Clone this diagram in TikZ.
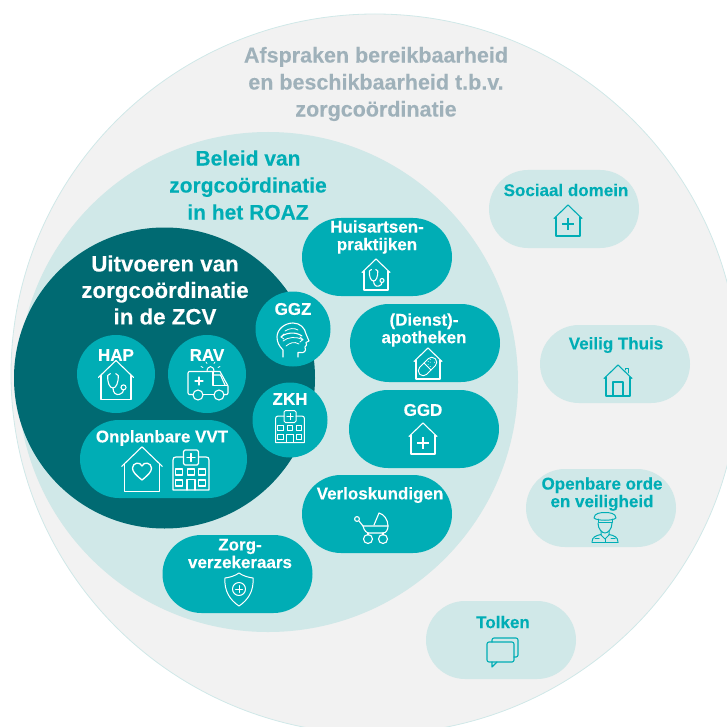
\documentclass[tikz,border=0pt]{standalone}
\usepackage{fontspec}
\usetikzlibrary{shapes.geometric}
\setmainfont{Liberation Sans}[BoldFont={Liberation Sans Bold},BoldFeatures={FakeBold=0.12}]
\definecolor{grayzone}{HTML}{F2F2F2}
\definecolor{palezone}{HTML}{D0E8E8}
\definecolor{tealzone}{HTML}{00ADB5}
\definecolor{darkzone}{HTML}{006A72}
\definecolor{headgray}{HTML}{9FB1BA}
\newcommand{\fs}[2]{\fontsize{#1}{#2}\selectfont\bfseries}
\tikzset{
  zone/.style={shape=circle,inner sep=0pt,minimum size=#1},
  pill/.style={draw=none,inner sep=0pt,rounded corners=39pt,minimum width=150pt,minimum height=78pt},
  tealpill/.style={pill,fill=tealzone},
  palepill/.style={pill,fill=palezone},
  ball/.style={zone=#1,fill=tealzone},
  lab/.style={align=center,inner sep=0pt,text=white,yshift=-1pt,font=\fs{17}{17.6}},
  tlab/.style={lab,text=tealzone},
  head/.style={align=center,inner sep=0pt,font=\fs{21.5}{27}},
  wicon/.style={color=white,line width=1.1pt,line join=round,line cap=round},
  ticon/.style={color=tealzone,line width=1.1pt,line join=round,line cap=round},
  pics/houseshape/.style={code={
    \draw (-14,-2.5) -- (0,-16) -- (14,-2.5);
    \draw (-12,-4) -- (-12,15) -- (12,15) -- (12,-4);
  }},
  pics/steth/.style={code={
    \draw (-4.5,-5.5) -- (-6.6,-4) .. controls (-7,2) and (-5,6) .. (-2.4,6) .. controls (0,6) and (2,2) .. (1.8,-4) -- (-.2,-5.5);
    \draw (-2.4,6) .. controls (-2.4,10) and (0,12) .. (3,11) .. controls (5,10.5) and (6,9) .. (6,7.5);
    \draw (6,5.5) circle (2);
  }},
  pics/bigplus/.style={code={
    \draw[line width=2.2pt,line cap=butt] (-6,0) -- (6,0) (0,-6) -- (0,6);
  }},
  pics/hospital/.style={code={
    \draw (-7.5,-13) -- (-15,-13) .. controls (-17,-13) and (-18,-12) .. (-18,-10) -- (-18,20) -- (18,20) -- (18,-10) .. controls (18,-12) and (17,-13) .. (15,-13) -- (7.5,-13);
    \draw[rounded corners=1.5pt] (-7.5,-20) rectangle (7.5,-5);
    \draw (-4,-12.5) -- (4,-12.5) (0,-16.5) -- (0,-8.5);
    \draw (-15.5,-1) rectangle (-8.5,5) (-3.5,-1) rectangle (3.5,5) (7.5,-1) rectangle (14.5,5);
    \draw (-15.5,10) rectangle (-8.5,16) (7.5,10) rectangle (14.5,16);
    \draw (-4,20) -- (-4,9.5) -- (4,9.5) -- (4,20);
  }},
  pics/ambulance/.style={code={
    \draw (-15,11.5) -- (-19,11.5) .. controls (-20,11.5) and (-20,11) .. (-20,10) -- (-20,-10) .. controls (-20,-11) and (-20,-11.5) .. (-19,-11.5) -- (12,-11.5) -- (20,3) -- (20,10) .. controls (20,11) and (20,11.5) .. (19,11.5) -- (16,11.5);
    \draw (-5,11.5) -- (6,11.5);
    \draw (5,-11.5) -- (5,2.5) -- (18.5,2.5);
    \draw (5,-8) -- (12.5,-8) -- (17,2);
    \draw (-10,12) circle (5) (11,12) circle (5);
    \draw (-13,-2) -- (-5,-2) (-9,-6) -- (-9,2);
    \draw (-1,-11.5) .. controls (-1,-18) and (6,-18) .. (6,-11.5);
    \draw[line width=.8pt] (-5,-15.5) -- (-7,-16.5) (-1,-19.5) -- (-2,-21) (6,-19.5) -- (7,-21) (10,-15.5) -- (12,-16.5);
  }},
  pics/brainhead/.style={code={
    \draw (-10,17) -- (-10,10) .. controls (-14,6) and (-16,2) .. (-16,-3) .. controls (-16,-11) and (-8,-17) .. (0,-17) .. controls (7,-17) and (12,-12) .. (13,-6) -- (16,1) -- (13,2.5) -- (13.5,5) -- (12,7) -- (12.5,10) .. controls (12,13) and (8,13) .. (5,12.5) -- (5,17);
    \draw (-12,-3) .. controls (-8,-7) and (2,-9) .. (9,-4);
    \draw[line width=.8pt] (-8,-9) .. controls (-4,-12) and (2,-12) .. (5,-10);
    \draw[line width=.8pt] (-10,1) .. controls (-5,-3) and (3,-4) .. (10,0);
    \draw[line width=.8pt] (-7,6) .. controls (-3,3) and (1,1) .. (6,4);
    \draw[line width=.8pt] (7,-3) -- (10,-.5) -- (7,2);
    \draw[line width=.8pt] (-9,-1) -- (-12,-3) -- (-9,-6);
  }},
  pics/stroller/.style={code={
    \draw (-18,-7) circle (2.4);
    \draw (-16,-5) -- (-12,0) -- (13,0);
    \draw (-12,0) .. controls (-11,5) and (-8,7) .. (-6,7) -- (8,7) .. controls (11,7) and (13,4) .. (13,0);
    \draw (-1,-1) -- (4,-13) .. controls (9,-12) and (13,-6) .. (13,0);
    \draw (-7,7) -- (-7,9) (8,7) -- (8,9);
    \draw (-7,13) circle (4.5) (8,13) circle (4.5);
  }},
  pics/shieldmark/.style={code={
    \draw (0,-16) .. controls (4,-13) and (10,-11.5) .. (14,-11) .. controls (15,2) and (9,11) .. (0,17) .. controls (-9,11) and (-15,2) .. (-14,-11) .. controls (-10,-11.5) and (-4,-13) .. (0,-16) -- cycle;
    \draw (0,0) circle (6.5);
    \draw (-3.5,0) -- (3.5,0) (0,-3.5) -- (0,3.5);
  }},
  pics/capsule/.style={code={
    \begin{scope}[rotate=45]
    \draw[rounded corners=4.9pt] (-11,-5) rectangle (11,5);
    \draw (0,-5) -- (0,5);
    \foreach \a/\b in {2/2,5/-1,8/2,4/-3,7/-3,2/-1}{\fill (\a,\b) circle (.5);}
    \end{scope}
  }},
  pics/officer/.style={code={
    \draw (-11,-10) .. controls (-11,-15) and (-4,-15.5) .. (0,-15.5) .. controls (4,-15.5) and (11,-15) .. (11,-10) .. controls (8,-7) and (-8,-7) .. (-11,-10) -- cycle;
    \draw (-7,-9) -- (-7,-5.5) -- (7,-5.5) -- (7,-9);
    \draw (-7,-5) .. controls (-7,1) and (-3,5) .. (0,5) .. controls (3,5) and (7,1) .. (7,-5);
    \draw (-4,3) -- (-4,7) -- (0,11) -- (4,7) -- (4,3);
    \draw (-13,14) .. controls (-13,9) and (-9,7.5) .. (-4,6.5) (13,14) .. controls (13,9) and (9,7.5) .. (4,6.5);
    \draw (-13,14) -- (13,14);
    \draw (0,11) -- (0,14);
    \draw (-10,10.5) -- (-6,10.5) (6,10.5) -- (10,10.5);
  }},
  pics/bubbles/.style={code={
    \draw[rounded corners=2pt] (-10,-10) -- (-10,-14) -- (16,-14) -- (16,5) -- (12,5);
    \draw[rounded corners=2pt] (-15,-10) rectangle (12,10);
    \draw (-10,10) -- (-10,15) -- (-5,10);
  }},
}
\begin{document}
\begin{tikzpicture}[x=1pt,y=-1pt]
\useasboundingbox (0,0) rectangle (727,727);
\begin{scope}
\clip (0,0) rectangle (727,727);
\node[shape=ellipse,draw=palezone,line width=.8pt,fill=grayzone,inner sep=0pt,minimum width=728pt,minimum height=720pt] (outer) at (375,374) {};
\end{scope}
\node[zone=500pt,fill=palezone] (roaz) at (268,382) {};
\node[zone=301pt,fill=darkzone] (zcv) at (164.5,378) {};

\node[head,text=headgray] (tafspraken) at (376,84) {Afspraken bereikbaarheid\\en beschikbaarheid t.b.v.\\zorgcoördinatie};
\node[head,text=tealzone,font=\fs{21}{27}] (tbeleid) at (248,185) {Beleid van\\zorgcoördinatie\\in het ROAZ};
\node[head,text=white,font=\fs{22.3}{26.5}] (tuitvoeren) at (165,290) {Uitvoeren van\\zorgcoördinatie\\in de ZCV};

% balls
\node[ball=78pt] (hap) at (116,374) {};
\node[ball=78pt] (rav) at (207,374) {};
\node[ball=75pt] (ggz) at (293,329) {};
\node[ball=75pt] (zkh) at (290,420) {};
\node[tealpill,minimum width=167pt] (vvt) at (163.5,459) {};
% pills
\node[tealpill] (huis) at (377,257) {};
\node[tealpill] (apo) at (425,343) {};
\node[tealpill] (ggd) at (424,429) {};
\node[tealpill] (verlos) at (377,514) {};
\node[tealpill] (zorg) at (237.5,574) {};
\node[palepill] (sociaal) at (564,209) {};
\node[palepill] (veilig) at (615,364) {};
\node[palepill] (orde) at (601,508) {};
\node[palepill] (tolken) at (501,640) {};

% labels
\node[lab] (lhap) at (116,354) {HAP};
\node[lab] (lrav) at (207,354) {RAV};
\node[lab] (lggz) at (293,308) {GGZ};
\node[lab] (lzkh) at (290,398) {ZKH};
\node[lab] (lvvt) at (162,437) {Onplanbare VVT};
\node[lab] (lhuis) at (377,236) {Huisartsen-\\praktijken};
\node[lab] (lapo) at (424,329) {(Dienst)-\\apotheken};
\node[lab] (lggd) at (423,409) {GGD};
\node[lab] (lverlos) at (380,494) {Verloskundigen};
\node[lab] (lzorg) at (240,552.5) {Zorg-\\verzekeraars};
\node[tlab] (lsociaal) at (566,189) {Sociaal domein};
\node[tlab] (lveilig) at (616,344) {Veilig Thuis};
\node[tlab] (lorde) at (602,493) {Openbare orde\\en veiligheid};
\node[tlab] (ltolken) at (503,621) {Tolken};

% icons
\pic[wicon,scale=1.25] at (116,380.5) {houseshape};
\pic[wicon,scale=1.25] at (116,380.5) {steth};
\pic[wicon] at (208,383) {ambulance};
\pic[wicon] at (293,340) {brainhead};
\pic[wicon,scale=.8,line width=1pt] at (290,426.5) {hospital};
\pic[wicon,scale=1.45] at (142,470) {houseshape};
\draw[wicon,line width=1.3pt] (142,480) .. controls (136,475) and (132.5,472) .. (132.5,468) .. controls (132.5,463) and (140,461) .. (142,466) .. controls (144,461) and (151.5,463) .. (151.5,468) .. controls (151.5,472) and (148,475) .. (142,480) -- cycle;
\pic[wicon,line width=1.2pt] at (191,470) {hospital};
\pic[wicon] at (376,275) {houseshape};
\pic[wicon] at (376,275) {steth};
\pic[wicon] at (428,364) {houseshape};
\pic[wicon,line width=.9pt] at (427.5,366.5) {capsule};
\pic[wicon] at (423,439) {houseshape};
\pic[wicon] at (423,443) {bigplus};
\pic[wicon] at (375,526) {stroller};
\pic[wicon,line width=1pt] at (239,589) {shieldmark};
\pic[ticon] at (568,221) {houseshape};
\pic[ticon] at (568,224) {bigplus};
\pic[ticon] at (618,381) {houseshape};
\draw[ticon] (613,396) -- (613,382) -- (623,382) -- (623,396);
\draw[ticon,line width=.9pt] (625.5,370) -- (625.5,368) -- (628.5,368) -- (628.5,373);
\pic[ticon,line width=1pt] at (605,528) {officer};
\pic[ticon] at (502,652) {bubbles};
\end{tikzpicture}
\end{document}
